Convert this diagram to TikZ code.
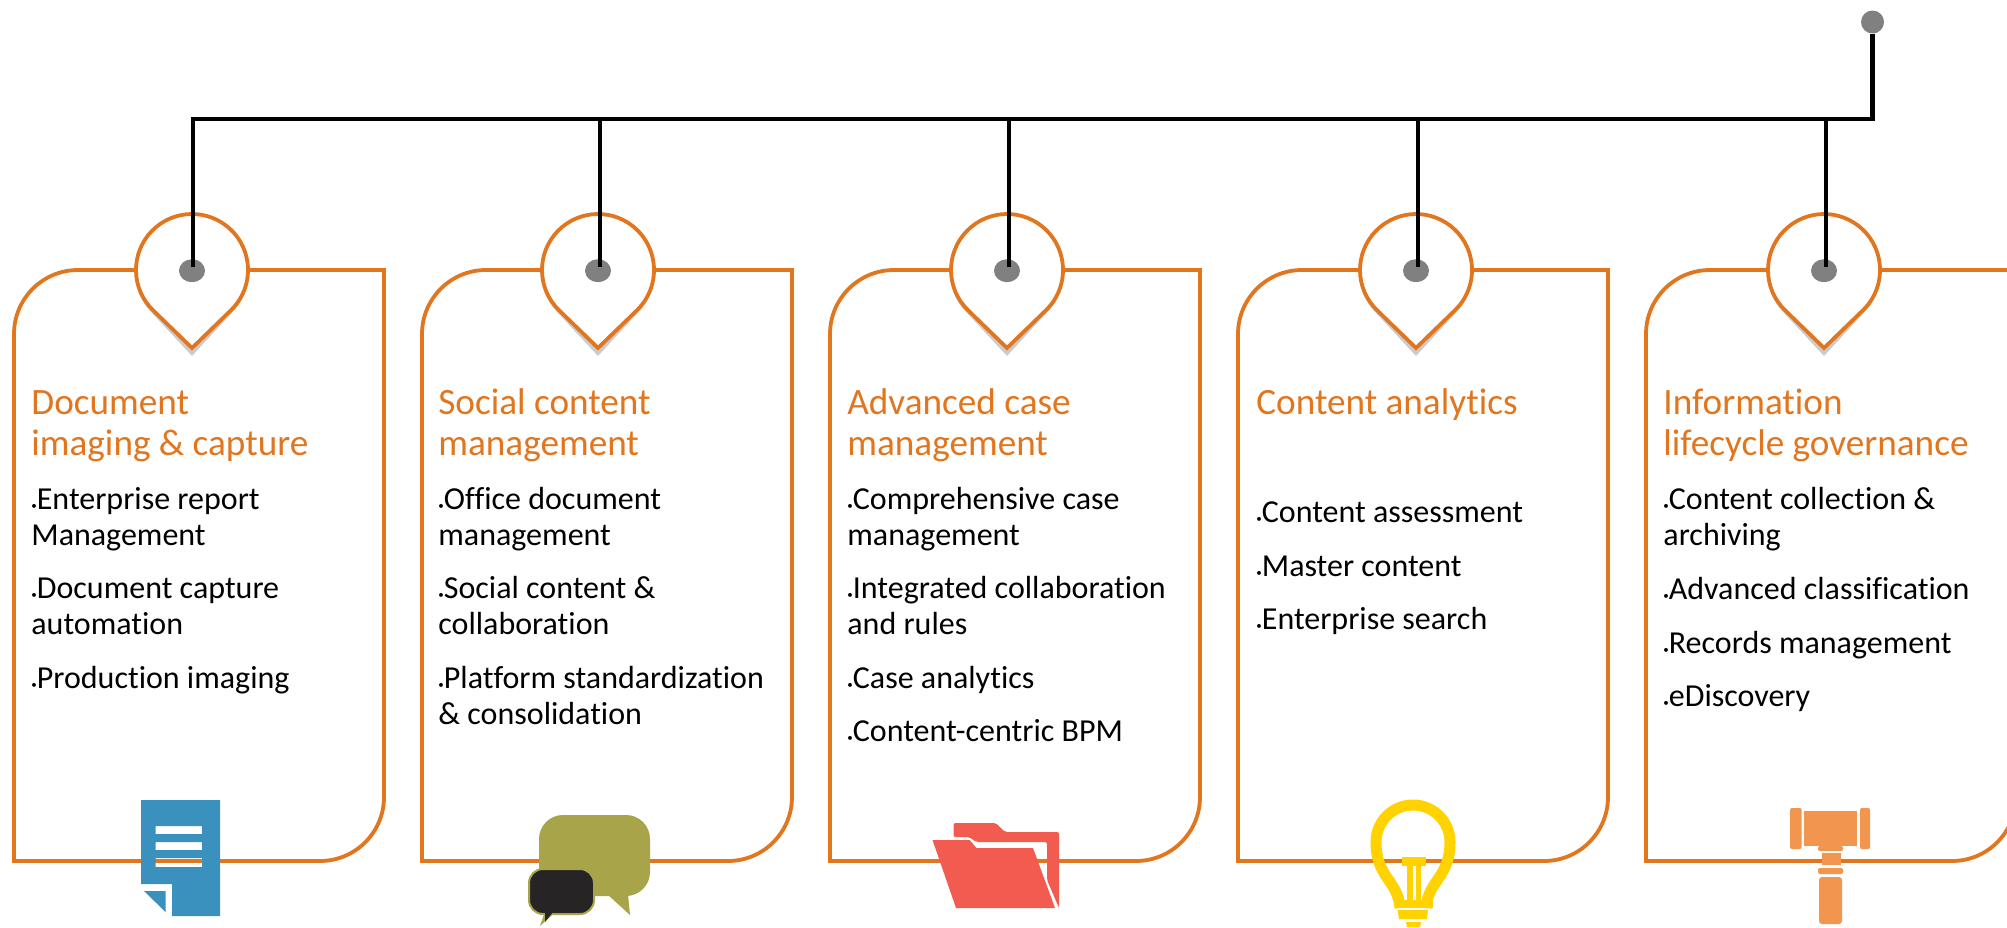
\documentclass[tikz,border=0pt]{standalone}
\usepackage{fontspec}
\setmainfont{Carlito}[Ligatures=CommonOff]
\usetikzlibrary{shapes.geometric}
\definecolor{cardorange}{HTML}{E2761F}
\definecolor{docblue}{HTML}{3A91BE}
\definecolor{chatolive}{HTML}{A8A44A}
\definecolor{chatblack}{HTML}{262424}
\definecolor{folderred}{HTML}{F15B50}
\definecolor{bulbyellow}{HTML}{FFD200}
\definecolor{gavelorange}{HTML}{F2954E}
\newcommand{\bul}{{\fontsize{5.5pt}{6pt}\selectfont •}}
\tikzset{
	cardbox/.pic={
		\draw[cardorange, line width=1.9pt] (0,-591) -- (0,-64) arc[start angle=180, end angle=90, radius=64] -- (370,0) -- (370,-527) arc[start angle=0, end angle=-90, radius=64] -- cycle;
	},
	pinhead/.pic={
		\fill[gray!40] (0,-86) -- (-39.5,-43.5) arc[start angle=226, end angle=-46, radius=56.5] -- cycle;
		\draw[cardorange, line width=1.9pt, fill=white] (0,-78) -- (-38.9,-40.3) arc[start angle=226, end angle=-46, radius=56] -- cycle;
	},
	dot/.style={ellipse, fill=gray, inner sep=0pt, minimum width=13pt, minimum height=11.5pt},
	topdot/.style={circle, fill=gray, inner sep=0pt, minimum size=11.5pt},
	wire/.style={line width=2.4pt, shorten >=1.8pt},
	head/.style={anchor=base west, inner sep=0pt, align=left, text=cardorange, font=\fontsize{18.6}{20.5}\selectfont},
	item/.style={anchor=base west, inner sep=0pt, align=left, font=\fontsize{16}{17.6}\selectfont}
}
\begin{document}
\begin{tikzpicture}[x=0.5pt,y=0.5pt]
	\clip (0,0) rectangle (2007,-927);
	\fill[white] (0,0) rectangle (2007,-927);
	% cards
	\pic at (14,-270) {cardbox};
	\pic at (422,-270) {cardbox};
	\pic at (830,-270) {cardbox};
	\pic at (1238,-270) {cardbox};
	\pic at (1646,-270) {cardbox};
	\pic at (192,-270) {pinhead};
	\pic at (598,-270) {pinhead};
	\pic at (1007,-270) {pinhead};
	\pic at (1416,-270) {pinhead};
	\pic at (1824,-270) {pinhead};
	% connectors
	\node (top) [topdot] at (1872.5,-22) {};
	\node (d1) [dot] at (192,-270.7) {};
	\node (d2) [dot] at (598,-270.7) {};
	\node (d3) [dot] at (1007,-270.7) {};
	\node (d4) [dot] at (1416,-270.7) {};
	\node (d5) [dot] at (1824,-270.7) {};
	\coordinate (b1) at (193,-119);
	\coordinate (b2) at (600,-119);
	\coordinate (b3) at (1009,-119);
	\coordinate (b4) at (1418,-119);
	\coordinate (b5) at (1826,-119);
	\coordinate (corner) at (1872.5,-119);
	\draw[wire] (top) -- (corner) -- (b1) -- (b1 |- d1);
	\draw[wire] (b2) -- (b2 |- d2);
	\draw[wire] (b3) -- (b3 |- d3);
	\draw[wire] (b4) -- (b4 |- d4);
	\draw[wire] (b5) -- (b5 |- d5);
	% texts
	\node (h1) [head] at (31,-455) {Document\\imaging \& capture};
	\node (a1) [item] at (31,-545) {\bul Enterprise report\\Management};
	\node (a2) [item] at (31,-634) {\bul Document capture\\automation};
	\node (a3) [item] at (31,-688) {\bul Production imaging};
	\node (h2) [head] at (438,-455) {Social content\\management};
	\node (c1) [item] at (438,-545) {\bul Office document\\management};
	\node (c2) [item] at (438,-634) {\bul Social content \&\\collaboration};
	\node (c3) [item] at (438,-724) {\bul Platform standardization\\\& consolidation};
	\node (h3) [head] at (847,-455) {Advanced case\\management};
	\node (e1) [item] at (847,-545) {\bul Comprehensive case\\management};
	\node (e2) [item] at (847,-634) {\bul Integrated collaboration\\and rules};
	\node (e3) [item] at (847,-688) {\bul Case analytics};
	\node (e4) [item] at (847,-741) {\bul Content-centric BPM};
	\node (h4) [head] at (1256,-414) {Content analytics};
	\node (f1) [item] at (1256,-522) {\bul Content assessment};
	\node (f2) [item] at (1256,-576) {\bul Master content};
	\node (f3) [item] at (1256,-629) {\bul Enterprise search};
	\node (h5) [head] at (1663,-455) {Information\\lifecycle governance};
	\node (g1) [item] at (1663,-545) {\bul Content collection \&\\archiving};
	\node (g2) [item] at (1663,-599) {\bul Advanced classification};
	\node (g3) [item] at (1663,-653) {\bul Records management};
	\node (g4) [item] at (1663,-706) {\bul eDiscovery};
	% document icon
	\fill[docblue, even odd rule] (141,-800) -- (220,-800) -- (220,-916) -- (172,-916) -- (172,-884) -- (141,-884) -- cycle
		(155.5,-826) rectangle (202,-834) (155.5,-842) rectangle (202,-850) (155.5,-858) rectangle (202,-867);
	\fill[docblue] (144,-891) -- (165.5,-891) -- (165.5,-912) -- cycle;
	% chat icon
	\fill[chatolive, rounded corners=12pt] (539,-815) rectangle (650,-896);
	\fill[chatolive] (607,-894) -- (630,-915) -- (628,-894) -- cycle;
	\fill[chatolive] (540,-926) -- (546,-908) -- (560,-908) -- cycle;
	\draw[chatolive, line width=1pt, fill=chatblack, rounded corners=7pt] (529,-869) rectangle (594,-914);
	\fill[chatblack] (545,-912) -- (545,-922) -- (553,-912) -- cycle;
	% folder icon
	\fill[folderred, rounded corners=1pt] (953.6,-823) -- (996,-823) -- (1005,-832) -- (1059,-832) -- (1059,-908) -- (1047,-880) -- (1047,-842) -- (976.5,-842) -- (969,-837) -- (953.6,-837) -- cycle;
	\fill[folderred] (932.5,-840) -- (969.6,-840) -- (976.5,-848) -- (1033,-848) -- (1055,-908) -- (956,-908) -- cycle;
	% bulb icon
	\draw[bulbyellow, line width=5.5pt] (1400,-908) .. controls (1398,-880) and (1376,-878) .. (1376,-842) arc[start angle=180, end angle=0, radius=37] .. controls (1450,-878) and (1428,-880) .. (1426,-908);
	\fill[bulbyellow] (1402,-857) rectangle (1426,-866);
	\fill[bulbyellow] (1407,-866) rectangle (1413,-900);
	\fill[bulbyellow] (1415.5,-866) rectangle (1421,-900);
	\fill[bulbyellow] (1396,-900) rectangle (1433,-908);
	\fill[bulbyellow] (1397.5,-910) -- (1428,-910) -- (1427,-919) -- (1399,-919) -- cycle;
	\fill[bulbyellow] (1406,-922) -- (1421,-922) -- (1420,-927) -- (1407,-927) -- cycle;
	% gavel icon
	\fill[gavelorange, rounded corners=1pt] (1790,-808) rectangle (1801.7,-849);
	\fill[gavelorange] (1804,-811) rectangle (1857,-846);
	\fill[gavelorange, rounded corners=1pt] (1860,-808) rectangle (1870,-849);
	\fill[gavelorange, rounded corners=1pt] (1818,-846) rectangle (1843,-851);
	\fill[gavelorange] (1822,-853) rectangle (1841,-865);
	\fill[gavelorange, rounded corners=1pt] (1818,-868) rectangle (1843,-874);
	\fill[gavelorange, rounded corners=1.5pt] (1819,-877) rectangle (1842,-924);
\end{tikzpicture}
\end{document}
